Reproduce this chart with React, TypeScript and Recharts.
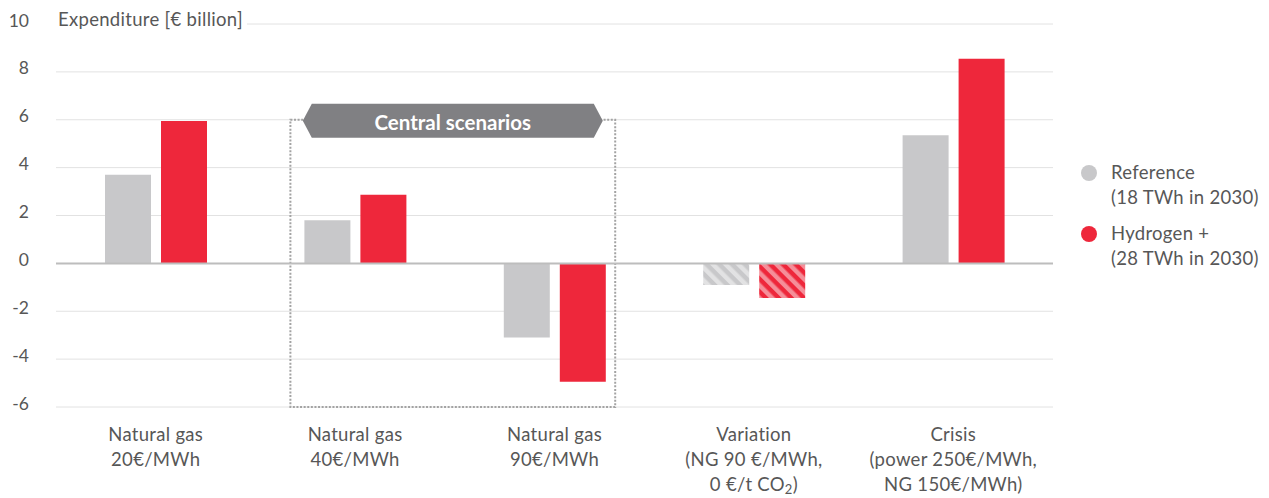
import { BarChart, Bar, XAxis, YAxis, CartesianGrid, ReferenceLine, ReferenceArea, Legend, Cell } from 'recharts'

const categories = ['ng20', 'ng40', 'ng90', 'variation', 'crisis']
const categoryLabels = [
  ['Natural gas', '20€/MWh'],
  ['Natural gas', '40€/MWh'],
  ['Natural gas', '90€/MWh'],
  ['Variation', '(NG 90 €/MWh,', '0 €/t CO|2|)'],
  ['Crisis', '(power 250€/MWh,', 'NG 150€/MWh)'],
]
const referenceValues = [3.7, 1.8, -3.1, -0.9, 5.35]
const hydrogenValues = [5.95, 2.87, -4.95, -1.45, 8.55]
const hatched = [false, false, false, true, false]
const yTicks = [-6, -4, -2, 0, 2, 4, 6, 8, 10]
const seriesNames = [
  ['Reference', '(18 TWh in 2030)'],
  ['Hydrogen +', '(28 TWh in 2030)'],
]

const data = categories.map((c, i) => ({
  name: c,
  reference: referenceValues[i],
  hydrogen: hydrogenValues[i],
}))

const FONT = 'Lato, "Open Sans", sans-serif'
const TEXT = '#575757'
const GRAY = '#c8c8ca'
const RED = '#ee273b'
const LABEL_SIZE = 18.5

function YTick({ y, payload }: any) {
  return (
    <text x={29} y={y - 4} textAnchor="end" dominantBaseline="central" fontFamily={FONT} fontSize={17.5} fill={TEXT}>
      {payload.value}
    </text>
  )
}

function XTick({ x, y, index }: any) {
  const lines = categoryLabels[index] || []
  return (
    <g>
      {lines.map((line, k) => {
        const parts = line.split('|')
        return (
          <text key={k} x={x} y={y + 26 + k * 25} textAnchor="middle" fontFamily={FONT} fontSize={LABEL_SIZE} letterSpacing={0.3} fill={TEXT}>
            {parts.length > 1 ? (
              <>
                {parts[0]}
                <tspan fontSize={13} dy={3}>{parts[1]}</tspan>
                <tspan dy={-3}>{parts[2]}</tspan>
              </>
            ) : line}
          </text>
        )
      })}
    </g>
  )
}

function CentralBox({ x, y, width, height }: any) {
  const left = x + 35
  const right = x + width - 39
  const cx = (left + right) / 2
  const bw = 300
  const bh = 34
  const top = y - 16
  const tip = 9
  const pts = [
    [cx - bw / 2, top + bh / 2],
    [cx - bw / 2 + tip, top],
    [cx + bw / 2 - tip, top],
    [cx + bw / 2, top + bh / 2],
    [cx + bw / 2 - tip, top + bh],
    [cx - bw / 2 + tip, top + bh],
  ].map(p => p.join(',')).join(' ')
  return (
    <g>
      <rect x={left} y={y} width={right - left} height={height} fill="none" stroke="#a3a3a3" strokeWidth={2} strokeDasharray="2 1.6" />
      <polygon points={pts} fill="#808083" />
      <text x={cx} y={top + bh / 2 + 1} textAnchor="middle" dominantBaseline="central" fontFamily={FONT} fontWeight={700} fontSize={20.5} fill="#fff">
        Central scenarios
      </text>
    </g>
  )
}

function LegendBox() {
  const colors = [GRAY, RED]
  return (
    <div style={{ fontFamily: FONT, fontSize: LABEL_SIZE, letterSpacing: 0.3, color: TEXT, lineHeight: '25px' }}>
      {seriesNames.map((lines, i) => (
        <div key={i} style={{ display: 'flex', alignItems: 'flex-start', marginBottom: 11 }}>
          <span style={{ width: 16, height: 16, borderRadius: 8, background: colors[i], marginTop: 5, marginRight: 14, flex: 'none' }} />
          <div>
            {lines.map((l, k) => <div key={k}>{l}</div>)}
          </div>
        </div>
      ))}
    </div>
  )
}

function TitleLabel({ viewBox }: any) {
  return (
    <g>
      <rect x={viewBox.x - 1} y={viewBox.y - 3} width={192} height={6} fill="#fff" />
      <text x={58} y={viewBox.y - 5} dominantBaseline="central" fontFamily={FONT} fontSize={LABEL_SIZE} letterSpacing={0.3} fill={TEXT}>
        Expenditure [€ billion]
      </text>
    </g>
  )
}

export default function App() {
  return (
    <div style={{ position: 'absolute', left: 0, top: 0, background: '#fff' }}>
      <BarChart width={1269} height={498} data={data} margin={{ top: 24, right: 28, bottom: 0, left: 0 }} barSize={46} barGap={10}>
        <defs>
          <pattern id="hatchGray" patternUnits="userSpaceOnUse" width={9} height={9} patternTransform="rotate(-45)">
            <rect width={9} height={9} fill={GRAY} />
            <rect width={4.5} height={9} fill="#e2e2e3" />
          </pattern>
          <pattern id="hatchRed" patternUnits="userSpaceOnUse" width={9} height={9} patternTransform="rotate(-45)">
            <rect width={9} height={9} fill={RED} />
            <rect width={4.5} height={9} fill="#f58e99" />
          </pattern>
        </defs>
        <CartesianGrid vertical={false} stroke="#e2e2e2" strokeWidth={1} />
        <XAxis dataKey="name" axisLine={false} tickLine={false} height={91} tick={<XTick />} interval={0} />
        <YAxis domain={[-6, 10]} ticks={yTicks} width={56} axisLine={false} tickLine={false} tick={<YTick />} interval={0} />
        <ReferenceLine y={10} stroke="none" label={<TitleLabel />} />
        <ReferenceArea x1="ng40" x2="ng90" y1={-6} y2={6} shape={<CentralBox />} ifOverflow="visible" />
        <Bar dataKey="reference" fill={GRAY} isAnimationActive={false}>
          {data.map((d, i) => <Cell key={d.name} fill={hatched[i] ? 'url(#hatchGray)' : GRAY} />)}
        </Bar>
        <Bar dataKey="hydrogen" fill={RED} isAnimationActive={false}>
          {data.map((d, i) => <Cell key={d.name} fill={hatched[i] ? 'url(#hatchRed)' : RED} />)}
        </Bar>
        <ReferenceLine y={0} stroke="#bdbdbd" strokeWidth={2} />
        <Legend content={<LegendBox />} layout="vertical" verticalAlign="top" align="right" wrapperStyle={{ left: 1081, top: 160, width: 188 }} />
      </BarChart>
    </div>
  )
}
